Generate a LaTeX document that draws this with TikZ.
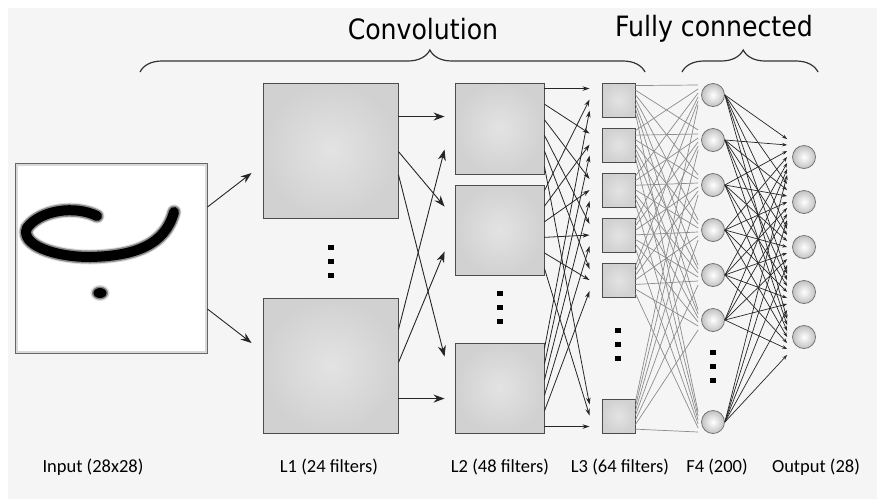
\documentclass[tikz,border=0pt]{standalone}
\usepackage{fontspec}
\setmainfont{Carlito}
\newfontfamily\headfont{DejaVu Sans Condensed}
\usetikzlibrary{positioning}
\usetikzlibrary{calc}
\usetikzlibrary{arrows.meta}
\usetikzlibrary{decorations.pathreplacing}

\tikzset{
    fmap/.style={draw=black!70, line width=0.9pt, inner sep=0pt,
        inner color=black!11, outer color=black!18},
    neuron/.style={circle, draw=black!55, line width=0.8pt, inner sep=0pt,
        minimum size=23pt, inner color=white, outer color=black!24},
    bigarrow/.style={-{Stealth[length=11pt,width=8pt]}, line width=0.9pt, black!85},
    smallarrow/.style={-{Stealth[length=7pt,width=4.5pt]}, line width=0.8pt, black!85},
    tinyarrow/.style={-{Stealth[length=5pt,width=3.5pt]}, line width=0.7pt, black!85},
    link/.style={line width=0.7pt, black!45},
    caption/.style={font=\fontsize{18.5}{20}\selectfont},
    heading/.style={font=\headfont\fontsize{28}{30}\selectfont},
    span brace/.style={decorate, decoration={brace, amplitude=22pt, aspect=#1},
        line width=1.2pt, black!80},
    stroke/.style={line cap=round},
    stackdots/.pic={
        \foreach \d in {-14,0,14}
            \fill[black] (-3,\d-2.5) rectangle (3,\d+2.5);
    },
}

\begin{document}
\begin{tikzpicture}[x=1pt, y=-1pt, node distance=45pt, on grid]
    \useasboundingbox (0,0) rectangle (877,499);
    \fill[black!4] (8,8) rectangle (877,499);

    % input image
    \node[draw=black!60, line width=1pt, fill=white, minimum width=192pt,
        minimum height=190pt] (input) at (111,258) {};
    \draw[black!15, line width=2pt] ($(input.north west)+(2,2)$)
        rectangle ($(input.south east)+(-2,-2)$);
    \begin{scope}[shift={(input.center)}]
        \foreach \w/\c in {15/black!12, 13/black!45, 10/black}
            \draw[stroke, \c, line width=\w pt]
                (-14,-42) .. controls (-36,-53) and (-71,-48) .. (-84,-30)
                .. controls (-91,-13) and (-56,-1) .. (-21,-1)
                .. controls (24,-2) and (54,-13) .. (63,-46);
        \fill[black!15] (-11,35) ellipse [x radius=9.5, y radius=8];
        \fill[black!50] (-11,35) ellipse [x radius=8, y radius=6.5];
        \fill[black] (-11,35) ellipse [x radius=6.5, y radius=5];
    \end{scope}

    % first convolution layer
    \node[fmap, minimum size=135pt] (l1a) at (330.5,150.5) {};
    \node[fmap, minimum size=135pt, below=215pt of l1a] (l1b) {};
    \pic at (331,261) {stackdots};

    % second convolution layer
    \node[fmap, minimum width=89pt, minimum height=91pt] (l2-1) at (499.5,128.5) {};
    \node[fmap, minimum width=89pt, minimum height=90pt] (l2-2) at (499.5,230) {};
    \node[fmap, minimum width=89pt, minimum height=90pt] (l2-3) at (499.5,388) {};
    \pic at (500,307) {stackdots};

    % third convolution layer
    \foreach \j/\y in {1/100,2/145,3/190.5,4/235.5,5/280.5,6/416}
        \node[fmap, minimum width=33pt, minimum height=34pt] (l3-\j) at (618.5,\y) {};
    \pic at (618,344) {stackdots};

    % fully connected layer and outputs
    \node[neuron] (f4-1) at (713,95) {};
    \foreach \i [remember=\i as \prev (initially 1)] in {2,...,6}
        \node[neuron, below=of f4-\prev] (f4-\i) {};
    \node[neuron, below=102pt of f4-6] (f4-7) {};
    \pic at (713,366) {stackdots};

    \node[neuron] (out-1) at (804,157) {};
    \foreach \k [remember=\k as \prev (initially 1)] in {2,...,5}
        \node[neuron, below=of out-\prev] (out-\k) {};

    % connections
    \draw[bigarrow] ($(input.east)+(0,-51)$) -- ($(l1a.west)+(-11,22.5)$);
    \draw[bigarrow] ($(input.east)+(0,51)$) -- ($(l1b.west)+(-11,-22.5)$);

    \foreach \s/\a/\t/\b in {l1a/34/l2-1/34, l1a/69/l2-2/22, l1a/92/l2-3/14,
                             l1b/32/l2-1/67, l1b/65/l2-2/67, l1b/101/l2-3/56}
        \draw[bigarrow] ($(\s.north east)+(0,\a)$) -- ($(\t.north west)+(-10,\b)$);

    \foreach \i in {1,2,3}
        \foreach \j in {1,...,6}
            \draw[smallarrow] ($(l2-\i.north east)+(0,{6+(\j-1)*15.6})$)
                -- ($(l3-\j.north west)+(-12,{6+(\i-1)*11})$);

    \foreach \j in {1,...,6}
        \foreach \i in {1,...,7}
            \draw[link] ($(l3-\j.north east)+(0,{3+(\i-1)*4.6})$)
                -- ($(f4-\i.west)+(-3,{(\j-3.5)*4})$);

    \foreach \i in {1,...,7}
        \foreach \k in {1,...,5}
            \draw[tinyarrow] (f4-\i.east) -- ($(out-\k.west)+(-5,{(\i-4)*6})$);

    % headings
    \node[heading] (conv) at (423,29) {Convolution};
    \node[heading] (fc) at (714,29) {Fully connected};
    \draw[span brace=0.574] (140,72) -- (645,72);
    \draw[span brace=0.45] (682,72) -- (818,72);

    % layer captions
    \node[caption] (cap-in) at (93,467) {Input (28x28)};
    \node[caption] (cap-l1) at (329,467) {L1 (24 filters)};
    \node[caption] (cap-l2) at (500,467) {L2 (48 filters)};
    \node[caption] (cap-l3) at (620,467) {L3 (64 filters)};
    \node[caption] (cap-f4) at (717,467) {F4 (200)};
    \node[caption] (cap-out) at (816,467) {Output (28)};
\end{tikzpicture}
\end{document}
